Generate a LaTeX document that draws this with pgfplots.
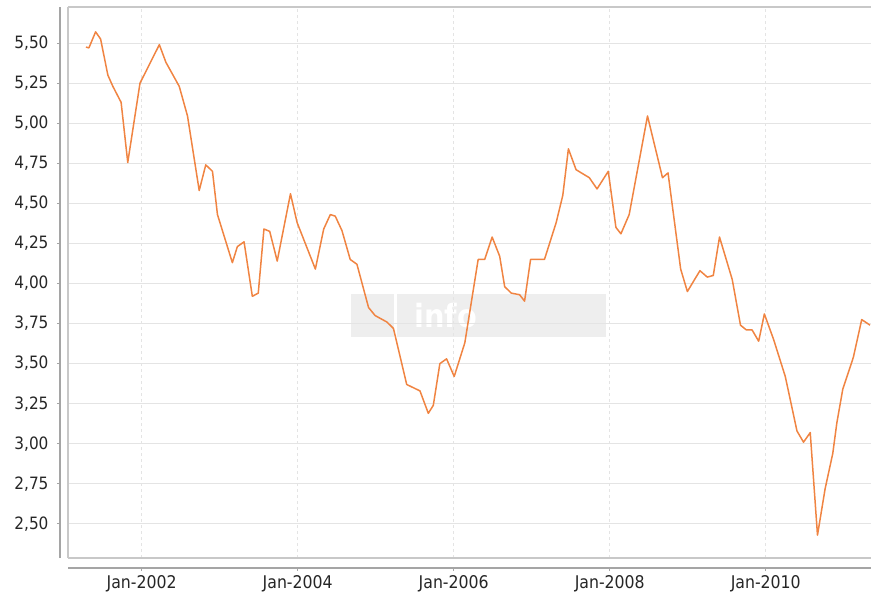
\documentclass[border=0pt]{standalone}
\usepackage{pgfplots}
\pgfplotsset{compat=1.18}
\usepackage{fontspec}
\setmainfont{DejaVu Sans Condensed}
\definecolor{lineor}{RGB}{240,132,66}
\definecolor{axgray}{RGB}{165,165,165}
\definecolor{framegray}{RGB}{200,200,200}
\definecolor{gridgray}{RGB}{228,228,228}
\definecolor{wm}{RGB}{238,238,238}
\begin{document}
\begin{tikzpicture}[x=1pt,y=1pt]
\pgfplotsset{
  common/.style={
    scale only axis, width=803pt, height=551pt,
    xmin=2001.055, xmax=2011.349, ymin=2.2875, ymax=5.725,
    anchor=south west,
  }
}
% watermark underneath
\begin{axis}[common, at={(68pt,37pt)}, hide axis]
\fill[wm] (axis cs:2004.68,3.665) rectangle (axis cs:2005.23,3.935);
\fill[wm] (axis cs:2005.27,3.665) rectangle (axis cs:2007.95,3.935);
\node[white, font=\fontsize{32}{32}\selectfont\bfseries, anchor=west] at (axis cs:2005.45,3.8) {info};
\end{axis}
% main plot area
\begin{axis}[common, at={(68pt,37pt)},
  axis x line=box, axis y line=left,
  axis line style={framegray, line width=1.2pt, -},
  xtick={2002,2004,2006,2008,2010},
  ytick={2.5,2.75,...,5.5},
  xticklabels={}, yticklabels={},
  major tick length=0pt,
  xmajorgrids=true, ymajorgrids=true,
  x grid style={gridgray, dashed, line width=0.8pt},
  y grid style={gridgray, line width=1pt},
  clip=true,
]
\addplot[lineor, line width=1.5pt, mark=none, line join=round] coordinates {
(2001.285,5.475) (2001.323,5.47) (2001.409,5.57) (2001.473,5.525)
(2001.566,5.30) (2001.630,5.23) (2001.736,5.13) (2001.821,4.755)
(2001.978,5.25) (2002.226,5.49) (2002.310,5.38) (2002.481,5.23)
(2002.587,5.045) (2002.737,4.58) (2002.821,4.74) (2002.907,4.70)
(2002.971,4.43) (2003.162,4.13) (2003.226,4.23) (2003.312,4.26)
(2003.418,3.92) (2003.494,3.94) (2003.567,4.34) (2003.641,4.325)
(2003.737,4.14) (2003.907,4.56) (2003.992,4.38) (2004.226,4.09)
(2004.333,4.34) (2004.418,4.43) (2004.481,4.42) (2004.567,4.33)
(2004.673,4.15) (2004.759,4.12) (2004.908,3.85) (2004.992,3.80)
(2005.142,3.76) (2005.227,3.72) (2005.397,3.37) (2005.567,3.33)
(2005.674,3.19) (2005.738,3.24) (2005.822,3.50) (2005.908,3.53)
(2006.006,3.42) (2006.142,3.63) (2006.313,4.15) (2006.397,4.15)
(2006.492,4.29) (2006.589,4.17) (2006.653,3.98) (2006.738,3.94)
(2006.844,3.93) (2006.908,3.89) (2006.985,4.15) (2007.163,4.15)
(2007.313,4.38) (2007.398,4.55) (2007.470,4.84) (2007.568,4.71)
(2007.738,4.66) (2007.837,4.59) (2007.981,4.70) (2008.079,4.35)
(2008.143,4.31) (2008.249,4.43) (2008.484,5.045) (2008.676,4.66)
(2008.747,4.69) (2008.909,4.09) (2008.995,3.95) (2009.156,4.08)
(2009.250,4.04) (2009.327,4.05) (2009.407,4.29) (2009.570,4.025)
(2009.676,3.74) (2009.752,3.71) (2009.825,3.71) (2009.909,3.64)
(2009.982,3.81) (2010.101,3.65) (2010.250,3.42) (2010.400,3.08)
(2010.484,3.01) (2010.570,3.07) (2010.663,2.43) (2010.761,2.72)
(2010.859,2.94) (2010.911,3.13) (2010.987,3.34) (2011.123,3.54)
(2011.230,3.775) (2011.336,3.74)
};
\end{axis}
% offset x axis
\begin{axis}[common, at={(68pt,27pt)},
  axis x line=bottom, axis y line=none,
  axis line style={axgray, line width=1.6pt, -},
  xtick={2002,2004,2006,2008,2010},
  xticklabels={Jan-2002,Jan-2004,Jan-2006,Jan-2008,Jan-2010},
  tick align=outside, major tick length=3pt,
  tick style={axgray, line width=1pt},
  ticklabel style={font=\fontsize{17.5}{20}\selectfont, text=black!85},
  xticklabel style={yshift=-1pt},
]
\end{axis}
% offset y axis
\begin{axis}[common, at={(60pt,37pt)},
  axis y line=left, axis x line=none,
  axis line style={axgray, line width=1.6pt, -},
  ytick={2.5,2.75,...,5.5},
  tick align=outside, major tick length=3pt,
  tick style={axgray, line width=1pt},
  ticklabel style={font=\fontsize{17}{20}\selectfont, text=black!85},
  yticklabel style={/pgf/number format/.cd, fixed, fixed zerofill, precision=2, use comma, assume math mode=true, /tikz/.cd, xshift=-5pt},
  scaled y ticks=false,
]
\end{axis}
\pgfresetboundingbox
\path (0,0) rectangle (871pt,595pt);
\end{tikzpicture}
\end{document}
